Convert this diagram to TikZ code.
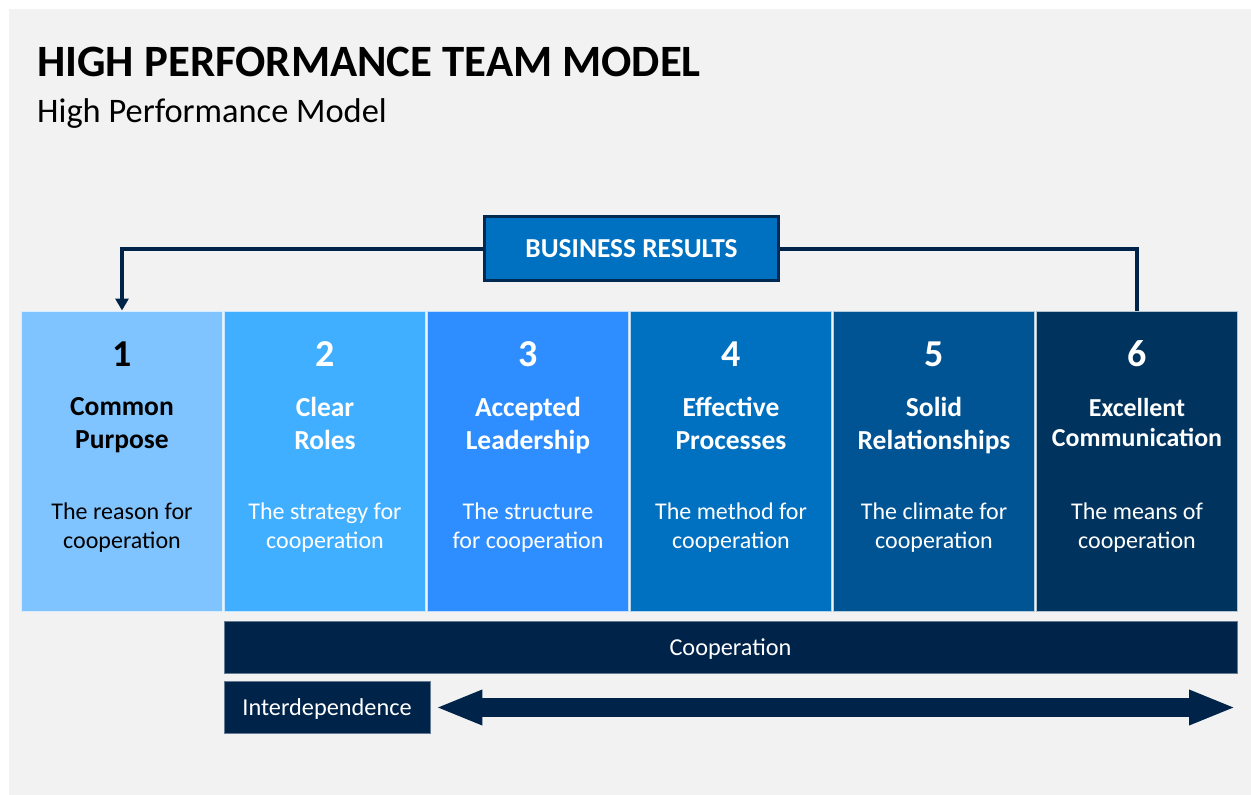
\documentclass[tikz,border=0pt]{standalone}
\usepackage{fontspec}
\setmainfont{Carlito}
\usetikzlibrary{arrows.meta}

\definecolor{pagebg}{HTML}{F2F2F2}
\definecolor{stepA}{HTML}{80C4FF}
\definecolor{stepB}{HTML}{41AFFF}
\definecolor{stepC}{HTML}{2E8EFF}
\definecolor{stepD}{HTML}{0070C0}
\definecolor{stepE}{HTML}{005494}
\definecolor{stepF}{HTML}{00345E}
\definecolor{navy}{HTML}{002349}
\definecolor{resultblue}{HTML}{0070C0}
\definecolor{resultedge}{HTML}{002A52}

\tikzset{
  column/.style={draw=white!70!#1, line width=1pt, fill=#1,
    minimum width=201pt, minimum height=300pt, inner sep=0pt},
  numtext/.style={font=\fontsize{38}{40}\selectfont\bfseries},
  % struts keep every two-line label the same height
  headtext/.style={font=\fontsize{27.5}{33}\selectfont\bfseries, align=center,
    inner sep=0pt, execute at begin node=\strut, execute at end node=\strut},
  desctext/.style={font=\fontsize{24}{29}\selectfont, align=center,
    inner sep=0pt, execute at begin node=\strut, execute at end node=\strut},
  navybar/.style={fill=navy, draw=navy!60!white, line width=0.8pt,
    inner sep=0pt, text depth=0pt, text=white, font=\fontsize{24.3}{28}\selectfont},
  feedback/.style={draw=navy, line width=4pt},
  bigarrow/.style={draw=navy, line width=19pt,
    {Triangle[width=32pt,length=47pt]}-{Triangle[width=32pt,length=47pt]}},
}

\begin{document}
\begin{tikzpicture}[x=1pt,y=-1pt]
  % page and panel
  \fill[white] (0,0) rectangle (1251,795);
  \fill[pagebg] (9,9) rectangle (1251,795);
  \useasboundingbox (0,0) rectangle (1251,795);

  % headings
  \node[anchor=base west, inner sep=0pt, font=\fontsize{44.8}{48}\selectfont\bfseries]
    (title) at (37,76) {HIGH PERFORMANCE TEAM MODEL};
  \node[anchor=base west, inner sep=0pt, font=\fontsize{34.4}{38}\selectfont]
    (subtitle) at (37,122) {High Performance Model};

  % the six steps
  \node[column=stepA] (c1) at (122,461) {};
  \node[column=stepB] (c2) at (325,461) {};
  \node[column=stepC] (c3) at (528,461) {};
  \node[column=stepD] (c4) at (731,461) {};
  \node[column=stepE] (c5) at (934,461) {};
  \node[column=stepF] (c6) at (1137,461) {};

  \node[numtext, text=black] (n1) at (122,354) {1};
  \node[numtext, text=white] (n2) at (325,354) {2};
  \node[numtext, text=white] (n3) at (528,354) {3};
  \node[numtext, text=white] (n4) at (731,354) {4};
  \node[numtext, text=white] (n5) at (934,354) {5};
  \node[numtext, text=white] (n6) at (1137,354) {6};

  \node[headtext, text=black] (h1) at (122,428) {Common\\Purpose};
  \node[headtext, text=white] (h2) at (325,428) {Clear\\Roles};
  \node[headtext, text=white] (h3) at (528,428) {Accepted\\Leadership};
  \node[headtext, text=white] (h4) at (731,428) {Effective\\Processes};
  \node[headtext, text=white] (h5) at (934,428) {Solid\\Relationships};
  \node[headtext, text=white, font=\fontsize{25.9}{30}\selectfont\bfseries]
    (h6) at (1137,426.5) {Excellent\\Communication};

  \node[desctext, text=black] (d1) at (122,530) {The reason for\\cooperation};
  \node[desctext, text=white] (d2) at (325,530) {The strategy for\\cooperation};
  \node[desctext, text=white] (d3) at (528,530) {The structure\\for cooperation};
  \node[desctext, text=white] (d4) at (731,530) {The method for\\cooperation};
  \node[desctext, text=white] (d5) at (934,530) {The climate for\\cooperation};
  \node[desctext, text=white] (d6) at (1137,530) {The means of\\cooperation};

  % business results loop
  \node[fill=resultblue, draw=resultedge, line width=3pt, minimum width=294pt,
    minimum height=64pt, inner sep=0pt, text=white,
    font=\fontsize{27.4}{30}\selectfont\bfseries] (br) at (631.5,248.5) {BUSINESS RESULTS};
  \draw[feedback] (c6.north) |- (br.east);
  \draw[feedback, -{Triangle[width=13pt,length=12pt]}] (br.west) -| (c1.north);

  % cooperation and interdependence
  \node[navybar, minimum width=1013pt, minimum height=52pt] (coop) at (730.5,647) {Cooperation};
  \node[navybar, minimum width=206pt, minimum height=52pt] (inter) at (327,707.5) {Interdependence};
  \coordinate (arrowend) at (1236,707.5);
  \draw[bigarrow] ([xshift=5pt]inter.east) -- (arrowend);
\end{tikzpicture}
\end{document}
